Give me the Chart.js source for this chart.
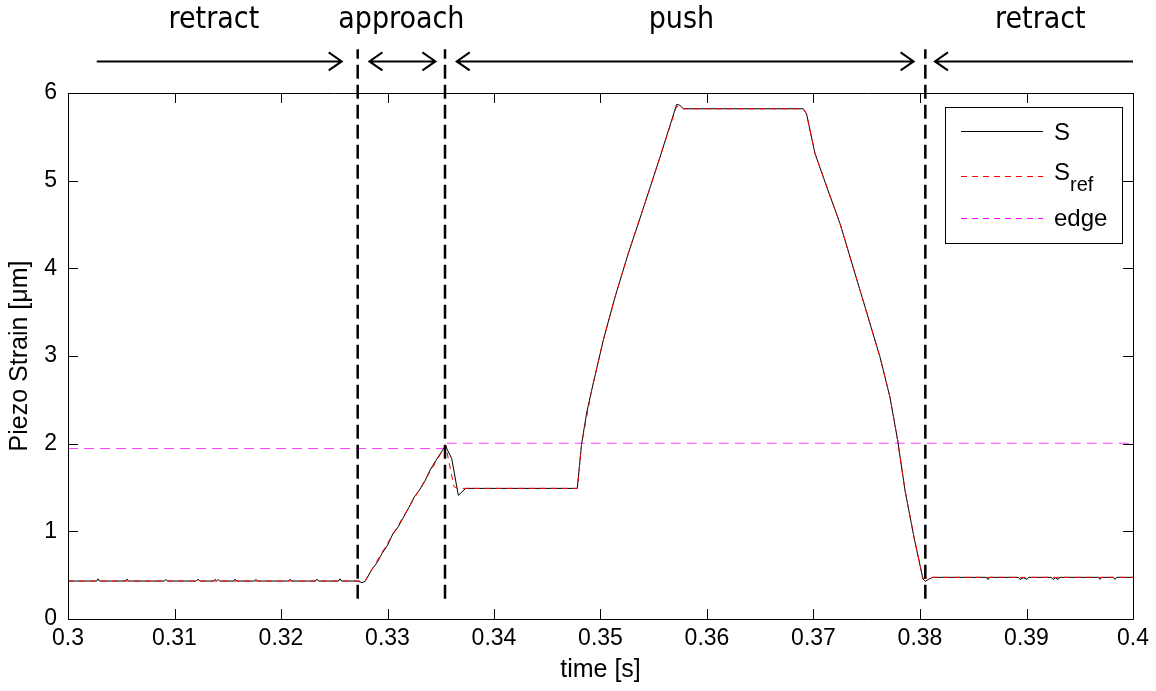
<!DOCTYPE html>
<html>
<head>
<meta charset="utf-8">
<script src="https://cdn.jsdelivr.net/npm/chart.js@4/dist/chart.umd.min.js"></script>
<style>
  html, body { margin: 0; background: #fff; }
</style>
</head>
<body>
<canvas id="strain-chart" width="1156" height="691"></canvas>
<script>
// measured piezo strain S (time in s, strain in um)
const sTime = [
  0.3000, 0.3027, 0.30282, 0.30295, 0.30540, 0.30554, 0.30568, 0.30905, 0.3092, 0.30935,
  0.31205, 0.31221, 0.31236, 0.31365, 0.3138, 0.31395, 0.3141, 0.31425, 0.31553, 0.31568,
  0.31583, 0.3175, 0.31765, 0.3178, 0.3207, 0.32085, 0.321, 0.32323, 0.32338, 0.32353,
  0.3254, 0.32554, 0.32568, 0.3272, 0.3276, 0.3279,
  0.3285, 0.3290, 0.3295, 0.3300, 0.3305, 0.3310, 0.3315, 0.3320, 0.3325, 0.3330,
  0.3335, 0.3340, 0.3345, 0.33546, 0.33562, 0.33603, 0.33665, 0.33734, 0.34782,
  0.34823, 0.3487, 0.34917, 0.35026, 0.35136, 0.35261, 0.35387, 0.35559, 0.35715, 0.35745,
  0.35778, 0.36904, 0.36935, 0.37014, 0.3713, 0.37249, 0.37437, 0.37624, 0.37718, 0.3779,
  0.37859, 0.37944, 0.38028, 0.3805, 0.3809, 0.3812,
  0.38623, 0.38638, 0.38653, 0.38924, 0.38939, 0.38972, 0.39005, 0.3902,
  0.39234, 0.39249, 0.39272, 0.39296, 0.3931, 0.39675, 0.3969, 0.39705,
  0.39816, 0.39831, 0.39846, 0.4000,
];
const sValue = [
  0.433, 0.433, 0.458, 0.433, 0.433, 0.455, 0.433, 0.433, 0.452, 0.433,
  0.433, 0.455, 0.433, 0.433, 0.452, 0.435, 0.45, 0.433, 0.433, 0.455,
  0.433, 0.433, 0.452, 0.433, 0.433, 0.453, 0.433, 0.433, 0.455, 0.433,
  0.433, 0.458, 0.433, 0.433, 0.415, 0.43,
  0.56, 0.64, 0.75, 0.84, 0.97, 1.05, 1.16, 1.27, 1.39, 1.47,
  1.57, 1.70, 1.80, 1.98, 1.93, 1.83, 1.41, 1.49, 1.49,
  2.0, 2.35, 2.61, 3.18, 3.67, 4.17, 4.63, 5.27, 5.87, 5.86,
  5.82, 5.82, 5.76, 5.31, 4.91, 4.51, 3.75, 2.99, 2.53, 2.04,
  1.47, 0.93, 0.456, 0.43, 0.46, 0.475,
  0.475, 0.45, 0.475, 0.475, 0.452, 0.47, 0.452, 0.475,
  0.475, 0.45, 0.47, 0.45, 0.475, 0.475, 0.452, 0.475,
  0.475, 0.452, 0.475, 0.475,
];

// reference strain S_ref
const refTime = [
  0.3000, 0.3279, 0.33546, 0.33624, 0.3366, 0.34782, 0.34823, 0.34917, 0.35026, 0.35136,
  0.35261, 0.35387, 0.35559, 0.35715, 0.35778, 0.36904, 0.36935, 0.37014, 0.37249, 0.37437,
  0.37624, 0.37718, 0.3779, 0.37859, 0.37944, 0.38028, 0.3808, 0.4000,
];
const refValue = [
  0.433, 0.433, 1.98, 1.51, 1.49, 1.49, 2.0, 2.61, 3.18, 3.67,
  4.17, 4.63, 5.27, 5.85, 5.82, 5.82, 5.76, 5.31, 4.51, 3.75,
  2.99, 2.53, 2.04, 1.47, 0.93, 0.46, 0.475, 0.475,
];

// detected edge level
const edgeTime = [0.3000, 0.3354, 0.3354, 0.4000];
const edgeValue = [1.945, 1.945, 2.005, 2.005];

// phase boundaries and the annotation row above the axes
const phaseBounds = [0.3272, 0.3354, 0.3805];
const boundSpan = [0.23, 6.5];
const phaseNames = ["retract", "approach", "push", "retract"];
const phaseLabelTime = [0.3137, 0.3313, 0.3576, 0.3913];
const phaseLabelLevel = 6.83;
const arrowFrom = [0.3027, 0.3283, 0.3365, 0.4000];
const arrowTo = [0.3257, 0.3345, 0.3794, 0.3814];
const arrowBoth = [false, true, true, false];
const arrowLevel = 6.36;

const xTicks = { min: 0.3, max: 0.4, step: 0.01 };
const yTicks = { min: 0, max: 6, step: 1 };

const FONT = "'Liberation Sans', Arial, sans-serif";
const toPoints = (ts, vs) => ts.map((t, i) => ({ x: t, y: vs[i] }));

Chart.defaults.font.family = FONT;
Chart.defaults.color = "#000";

const datasets = [
  {
    label: "S",
    data: toPoints(sTime, sValue),
    borderColor: "#000",
    borderWidth: 1,
    pointRadius: 0,
    order: 3,
  },
  {
    label: "S_ref",
    data: toPoints(refTime, refValue),
    borderColor: "#ff0000",
    borderWidth: 1,
    borderDash: [6, 5],
    pointRadius: 0,
    order: 2,
  },
  {
    label: "edge",
    data: toPoints(edgeTime, edgeValue),
    borderColor: "#ff40ff",
    borderWidth: 1,
    borderDash: [10, 6],
    pointRadius: 0,
    order: 4,
  },
];
for (const t of phaseBounds) {
  datasets.push({
    label: "bound",
    data: [{ x: t, y: boundSpan[0] }, { x: t, y: boundSpan[1] }],
    borderColor: "#000",
    borderWidth: 2.5,
    borderDash: [14, 6],
    pointRadius: 0,
    clip: false,
    order: 1,
  });
}

function crisp(v) {
  return Math.round(v) + 0.5;
}

// box, inward ticks, legend and the phase annotation row
const decorPlugin = {
  id: "decor",
  afterDatasetsDraw(chart) {
    const { ctx, chartArea: a, scales } = chart;
    const x = scales.x, y = scales.y;
    ctx.save();
    ctx.strokeStyle = "#000";
    ctx.lineWidth = 1;

    ctx.beginPath();
    ctx.rect(crisp(a.left), crisp(a.top), Math.round(a.right) - Math.round(a.left), Math.round(a.bottom) - Math.round(a.top));
    const tl = 10;
    for (const tk of x.ticks) {
      const px = crisp(x.getPixelForValue(tk.value));
      ctx.moveTo(px, a.bottom); ctx.lineTo(px, a.bottom - tl);
      ctx.moveTo(px, a.top); ctx.lineTo(px, a.top + tl);
    }
    for (const tk of y.ticks) {
      const py = crisp(y.getPixelForValue(tk.value));
      ctx.moveTo(a.left, py); ctx.lineTo(a.left + tl, py);
      ctx.moveTo(a.right, py); ctx.lineTo(a.right - tl, py);
    }
    ctx.stroke();

    // legend
    ctx.fillStyle = "#fff";
    ctx.fillRect(945, 107, 177, 136);
    ctx.strokeRect(945.5, 107.5, 177, 136);
    const entries = [
      { y: 131, color: "#000", dash: [] },
      { y: 176, color: "#ff0000", dash: [6, 5] },
      { y: 218, color: "#ff00ff", dash: [6, 5] },
    ];
    for (const e of entries) {
      ctx.beginPath();
      ctx.setLineDash(e.dash);
      ctx.strokeStyle = e.color;
      ctx.moveTo(961, e.y + 0.5);
      ctx.lineTo(1043, e.y + 0.5);
      ctx.stroke();
    }
    ctx.setLineDash([]);
    ctx.fillStyle = "#000";
    ctx.textBaseline = "alphabetic";
    ctx.textAlign = "left";
    ctx.font = "24px " + FONT;
    ctx.fillText("S", 1054, 140);
    ctx.fillText("S", 1054, 180);
    const sw = ctx.measureText("S").width;
    ctx.fillText("edge", 1054, 226);
    ctx.font = "20px " + FONT;
    ctx.fillText("ref", 1054 + sw, 191);

    // phase arrows
    ctx.strokeStyle = "#000";
    ctx.lineWidth = 2;
    const ay = y.getPixelForValue(arrowLevel);
    const head = (px, dir) => {
      ctx.moveTo(px - dir * 13, ay - 9);
      ctx.lineTo(px, ay);
      ctx.lineTo(px - dir * 13, ay + 9);
    };
    ctx.beginPath();
    arrowFrom.forEach((from, i) => {
      const p0 = x.getPixelForValue(from);
      const p1 = x.getPixelForValue(arrowTo[i]);
      ctx.moveTo(p0, ay);
      ctx.lineTo(p1, ay);
      const dir = Math.sign(p1 - p0);
      head(p1, dir);
      if (arrowBoth[i]) head(p0, -dir);
    });
    ctx.stroke();

    // phase names
    ctx.font = "30px 'DejaVu Sans Condensed', 'DejaVu Sans', sans-serif";
    ctx.textAlign = "center";
    ctx.textBaseline = "middle";
    const ly = y.getPixelForValue(phaseLabelLevel);
    phaseNames.forEach((name, i) => {
      ctx.fillText(name, x.getPixelForValue(phaseLabelTime[i]), ly);
    });
    ctx.restore();
  },
};

new Chart(document.getElementById("strain-chart"), {
  type: "line",
  data: { datasets },
  options: {
    responsive: false,
    animation: false,
    devicePixelRatio: 1,
    layout: { padding: { top: 93, right: 23, left: 0, bottom: 0 } },
    elements: { line: { tension: 0 } },
    scales: {
      x: {
        type: "linear",
        min: xTicks.min,
        max: xTicks.max,
        afterFit: (s) => { s.height = 72; },
        grid: { display: false, drawTicks: false },
        border: { display: false },
        ticks: {
          stepSize: xTicks.step,
          padding: 6,
          maxRotation: 0,
          font: { size: 23 },
          callback: (v) => String(+v.toFixed(2)),
        },
        title: { display: true, text: "time [s]", font: { size: 25 }, padding: { top: 0, bottom: 6 } },
      },
      y: {
        type: "linear",
        min: yTicks.min,
        max: yTicks.max,
        afterFit: (s) => { s.width = 68; },
        grid: { display: false, drawTicks: false },
        border: { display: false },
        ticks: { stepSize: yTicks.step, padding: 11, font: { size: 23 } },
        title: { display: true, text: "Piezo Strain [\u03bcm]", font: { size: 25 }, padding: { top: 5, bottom: 0 } },
      },
    },
    plugins: {
      legend: { display: false },
      tooltip: { enabled: false },
    },
  },
  plugins: [decorPlugin],
});
</script>
</body>
</html>
